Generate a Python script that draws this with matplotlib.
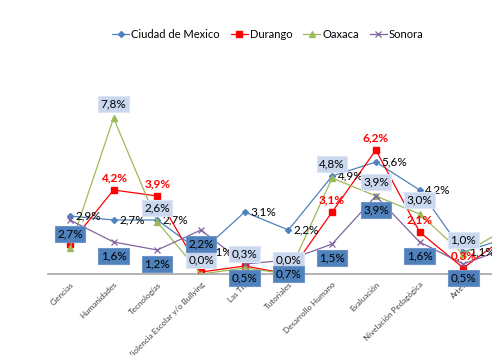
import numpy as np
import matplotlib
matplotlib.use("Agg")
import matplotlib.pyplot as plt

plt.rcParams['font.family'] = ['Lato', 'DejaVu Sans']

# categories (the last one is cut off by the right border in the original)
categorias = ['Ciencias', 'Humanidades', 'Tecnologías', 'Violencia Escolar y/o Bullying',
              'Las TIC', 'Tutoriales', 'Desarrollo Humano', 'Evaluación',
              'Nivelación Pedagógica', 'Artes', '']

cdmx = [2.9, 2.7, 2.7, 1.1, 3.1, 2.2, 4.9, 5.6, 4.2, 1.1, 1.8]
durango = [1.5, 4.2, 3.9, 0.1, 0.4, 0.0, 3.1, 6.2, 2.1, 0.3, 1.9]
oaxaca = [1.3, 7.8, 2.6, 0.0, 0.3, 0.0, 4.8, 3.9, 3.0, 1.0, 2.3]
sonora = [2.7, 1.6, 1.2, 2.2, 0.5, 0.7, 1.5, 3.9, 1.6, 0.5, 1.3]

def pct(v):
    return ('%.1f%%' % v).replace('.', ',')

x = np.arange(len(categorias))

fig = plt.figure(figsize=(4.92, 3.55), dpi=100)
ax = fig.add_axes([48 / 492, 81 / 355, 1 - 48 / 492, 170 / 355])

ax.plot(x, cdmx, color='#4f81bd', marker='D', ms=3, lw=0.9, label='Ciudad de Mexico')
ax.plot(x, durango, color='#ff0000', marker='s', ms=4, lw=0.9, label='Durango')
ax.plot(x, oaxaca, color='#9bbb59', marker='^', ms=4, lw=0.9, label='Oaxaca')
ax.plot(x, sonora, color='#8064a2', marker='x', ms=4, mew=0.9, lw=0.9, label='Sonora')

ax.set_xlim(-0.5, (492 - 70) / 43.7)
ax.set_ylim(0, 8.5)

# data labels (those hidden in the original are skipped)
for i in range(10):
    ax.annotate(pct(cdmx[i]), (x[i], cdmx[i]), xytext=(4, 0), textcoords='offset points',
                ha='left', va='center', fontsize=8.5, color='black', annotation_clip=False)
for i in range(1, 10):
    ax.annotate(pct(durango[i]), (x[i], durango[i]), xytext=(0, 9), textcoords='offset points',
                ha='center', va='center', fontsize=8.5, color='#ff0000', fontweight='bold',
                annotation_clip=False)
for i in range(1, 10):
    ax.annotate(pct(oaxaca[i]), (x[i], oaxaca[i]), xytext=(0, 10), textcoords='offset points',
                ha='center', va='center', fontsize=8.5, color='black', annotation_clip=False,
                bbox=dict(boxstyle='square,pad=0.2', fc='#c9d7ef', ec='#dde6f5', lw=0.8))
for i in range(10):
    ax.annotate(pct(sonora[i]), (x[i], sonora[i]), xytext=(0, -10), textcoords='offset points',
                ha='center', va='center', fontsize=8.5, color='black', annotation_clip=False,
                bbox=dict(boxstyle='square,pad=0.2', fc='#4f81bd', ec='#6f95c8', lw=0.8))

ax.set_xticks(x[:10])
ax.set_xticklabels(categorias[:10], rotation=45, ha='right', rotation_mode='anchor',
                   fontsize=5.8, color='#404040')
ax.tick_params(axis='x', length=0, pad=5)
ax.set_yticks([])
for s in ['top', 'right', 'left']:
    ax.spines[s].set_visible(False)
ax.spines['bottom'].set_color('#a6a6a6')
ax.spines['bottom'].set_linewidth(1.2)

fig.legend(loc='center', bbox_to_anchor=(268 / 492, 1 - 34 / 355), ncol=4, frameon=False,
           fontsize=8, handlelength=1.5, handletextpad=0.2, columnspacing=1.0)

fig.savefig('out.png', dpi=100)
